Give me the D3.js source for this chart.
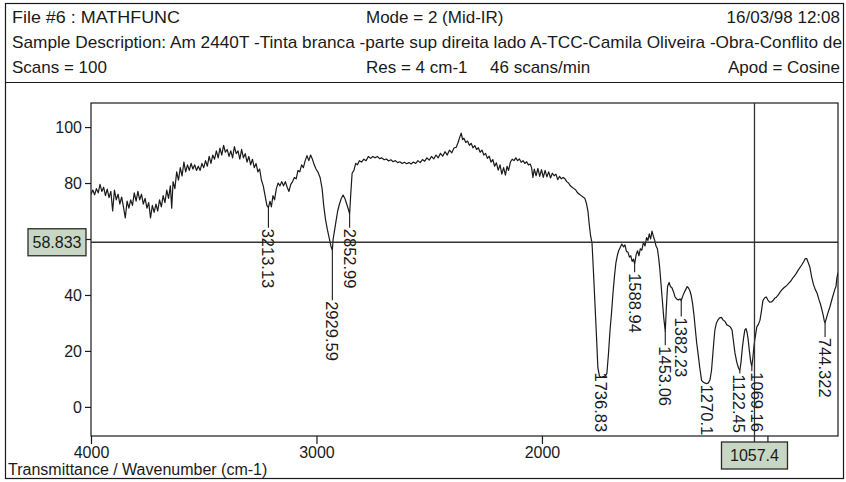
<!DOCTYPE html>
<html>
<head>
<meta charset="utf-8">
<script src="https://cdn.jsdelivr.net/npm/d3@7"></script>
<style>
  body { margin: 0; background: #fff; }
  svg text { font-family: "Liberation Sans", Arial, sans-serif; fill: #1a1a1a; }
</style>
</head>
<body>
<svg id="chart"></svg>
<script>
const width = 846;
const height = 482;

// header lines of the instrument printout
const headerFile = "File #6 : MATHFUNC";
const headerMode = "Mode = 2 (Mid-IR)";
const headerDate = "16/03/98 12:08";
const headerSample = "Sample Description: Am 2440T -Tinta branca -parte sup direita lado A-TCC-Camila Oliveira -Obra-Conflito de";
const headerScans = "Scans = 100";
const headerRes = "Res = 4 cm-1";
const headerRate = "46 scans/min";
const headerApod = "Apod = Cosine";
const axisTitle = "Transmittance / Wavenumber (cm-1)";

const xTicks = [4000, 3000, 2000, 1000];
const yTicks = [0, 20, 40, 60, 80, 100];

// cursor readout
const cursorT = 58.833;
const cursorW = 1057.4;

// peak picks
const peakWavenumbers = [3213.13, 2929.59, 2852.99, 1736.83, 1588.94, 1453.06, 1382.23, 1270.1, 1122.45, 1069.16, 744.322];
const peakLabels = ["3213.13", "2929.59", "2852.99", "1736.83", "1588.94", "1453.06", "1382.23", "1270.1", "1122.45", "1069.16", "744.322"];

// spectrum: [wavenumber cm-1, %T]
const spectrum = [
  [4000, 76], [3992, 77.5], [3984, 75.8], [3976, 78], [3968, 76.5], [3960, 79.5], [3952, 77], [3944, 78.5],
  [3936, 75.5], [3928, 77.8], [3920, 74.8], [3912, 77], [3904, 70], [3896, 77.5], [3888, 74], [3880, 76],
  [3872, 72.5], [3864, 75], [3856, 71.5], [3848, 67.5], [3840, 73.5], [3832, 71], [3824, 74], [3816, 72],
  [3808, 76.5], [3800, 73.5], [3792, 77], [3784, 74], [3776, 76], [3768, 72.5], [3760, 74.5], [3752, 71],
  [3744, 73], [3736, 67.5], [3728, 72], [3720, 69.5], [3712, 72.5], [3704, 70], [3696, 74], [3688, 71.5],
  [3680, 75.5], [3672, 73], [3664, 77.5], [3656, 74.5], [3648, 79], [3642, 71], [3636, 80.5], [3628, 78],
  [3620, 84], [3612, 81], [3604, 85.5], [3596, 82.5], [3588, 87.5], [3580, 84], [3572, 86.5], [3564, 84.5],
  [3556, 87], [3548, 85], [3540, 86.5], [3532, 84.5], [3524, 86], [3516, 84.5], [3508, 87], [3500, 85.5],
  [3492, 88], [3484, 86], [3476, 89.5], [3468, 87], [3460, 90], [3452, 88.5], [3444, 91.5], [3436, 89],
  [3428, 92.5], [3420, 90], [3412, 93.5], [3404, 91], [3396, 92], [3388, 89.5], [3380, 91.5], [3372, 89],
  [3364, 93], [3356, 90.5], [3348, 91.5], [3340, 88.5], [3332, 92], [3324, 89], [3316, 90.5], [3308, 87.5],
  [3300, 89.5], [3292, 86.5], [3284, 88.5], [3276, 85.5], [3268, 87], [3260, 84], [3252, 85], [3244, 81],
  [3236, 79], [3228, 75.5], [3220, 72], [3213.13, 71.2], [3206, 73.5], [3200, 71.5], [3193, 75.5], [3186, 74],
  [3178, 78], [3170, 80], [3162, 79], [3154, 80.5], [3146, 79], [3138, 80.5], [3130, 78.5], [3122, 77],
  [3114, 79.5], [3106, 80.5], [3098, 82], [3090, 81.5], [3082, 84.5], [3074, 84], [3066, 86.5], [3058, 85.5],
  [3050, 88], [3042, 89.8], [3034, 88], [3026, 90], [3018, 88.5], [3010, 86.5], [3002, 85], [2994, 84],
  [2984, 82], [2975, 78], [2968, 72], [2960, 67], [2952, 63.5], [2944, 60.5], [2936, 57.5], [2929.59, 56],
  [2926, 60], [2920, 63], [2914, 66], [2906, 70], [2898, 72.5], [2890, 74.5], [2882, 75.7], [2874, 74.5],
  [2866, 72.5], [2860, 71], [2852.99, 69], [2848, 76], [2842, 83.5], [2834, 84.5], [2826, 87], [2818, 86.5],
  [2810, 88], [2800, 87.5], [2790, 88.5], [2780, 88], [2770, 89.5], [2760, 88.8], [2750, 89.5], [2740, 89],
  [2730, 89.5], [2720, 88.7], [2710, 89], [2700, 88.3], [2690, 88.6], [2680, 87.9], [2670, 88.3], [2660, 87.6],
  [2650, 88], [2640, 87.3], [2630, 87.6], [2620, 87], [2610, 87.4], [2600, 86.9], [2590, 87.3], [2580, 86.8],
  [2570, 87.5], [2560, 87], [2550, 88], [2540, 87.3], [2530, 88.4], [2520, 87.8], [2510, 89], [2500, 88.2],
  [2490, 89.5], [2480, 88.6], [2470, 90], [2460, 89], [2450, 90.6], [2440, 89.6], [2430, 91.2], [2420, 90],
  [2410, 91.8], [2400, 90.8], [2390, 92.5], [2380, 92.8], [2372, 94.5], [2364, 96.5], [2358, 97.8], [2352, 95.5],
  [2346, 96], [2338, 94.5], [2330, 95], [2322, 93.5], [2314, 94.2], [2306, 92.6], [2298, 93.4], [2290, 92],
  [2282, 92.6], [2274, 91], [2266, 91.8], [2258, 90], [2250, 90.6], [2242, 88.8], [2234, 89.6], [2226, 87.5],
  [2218, 88.4], [2210, 86], [2202, 87.2], [2194, 84.6], [2186, 86.5], [2178, 83.2], [2170, 85.5], [2162, 82.8],
  [2155, 86], [2148, 84.5], [2140, 87.5], [2132, 88.5], [2124, 88], [2116, 89], [2108, 88], [2100, 88.6],
  [2092, 87.4], [2084, 88], [2076, 87], [2068, 87.6], [2060, 86.5], [2052, 86.8], [2046, 85.5], [2040, 82],
  [2034, 85], [2026, 82.6], [2018, 85.2], [2010, 82.4], [2002, 84.8], [1994, 82], [1986, 84.5], [1978, 82.2],
  [1970, 84], [1962, 81.8], [1954, 83.5], [1946, 82.6], [1938, 83.2], [1930, 81.2], [1922, 82.4], [1914, 81.5],
  [1906, 82], [1898, 81.5], [1890, 80.5], [1882, 80], [1874, 79], [1866, 78.5], [1858, 78], [1850, 77.5],
  [1842, 76.5], [1834, 76], [1826, 75.5], [1818, 75], [1810, 74.6], [1802, 72.5], [1796, 70], [1790, 65],
  [1784, 61], [1778, 58.6], [1772, 49], [1765, 37], [1758, 25], [1752, 14], [1745, 11], [1736.83, 10.5],
  [1728, 10.8], [1720, 11], [1712, 12], [1705, 19], [1698, 27.5], [1691, 34], [1685, 40.7], [1678, 47],
  [1672, 51.5], [1666, 54], [1660, 55.8], [1654, 56.8], [1646, 58.2], [1638, 57.2], [1632, 57.9], [1625, 55.5],
  [1619, 55.4], [1612, 53.5], [1606, 54], [1600, 52], [1594, 52.8], [1588.94, 51], [1582, 54.5], [1576, 55.8],
  [1570, 54], [1564, 56.5], [1557, 56], [1550, 58.8], [1543, 57.5], [1536, 60.5], [1530, 59.5], [1524, 61.8],
  [1518, 60], [1512, 62.8], [1506, 61], [1500, 59.5], [1494, 57.5], [1488, 56.5], [1482, 53], [1477, 49],
  [1472, 44], [1466, 38], [1460, 32], [1453.06, 27], [1448, 36], [1443, 43], [1436, 44.5], [1430, 43],
  [1423, 42.5], [1416, 41], [1410, 39.3], [1402, 38.5], [1394, 38.2], [1388, 38.6], [1382.23, 38], [1376, 39.5],
  [1370, 40.7], [1362, 42], [1356, 43], [1350, 42.5], [1344, 41.5], [1338, 39.8], [1332, 37], [1326, 33],
  [1320, 28], [1314, 23], [1308, 19.3], [1300, 14], [1292, 9.5], [1284, 8.8], [1276, 8.5], [1270.1, 8.3],
  [1262, 8.6], [1255, 9.6], [1248, 13], [1242, 19], [1237, 24], [1233, 27.5], [1226, 30], [1220, 31],
  [1212, 31.8], [1204, 32], [1196, 31], [1188, 30.5], [1180, 29.3], [1172, 29], [1164, 28.5], [1157, 27.5],
  [1150, 23], [1144, 19.3], [1136, 16], [1128, 13.8], [1122.45, 13], [1117, 16], [1112, 20.5], [1106, 24.5],
  [1100, 27.5], [1095, 28], [1090, 26.5], [1086, 24.5], [1080, 20], [1074, 16], [1069.16, 14.5], [1064, 18],
  [1060, 21.5], [1056, 24], [1052, 26], [1047, 28.6], [1040, 29.5], [1033, 31], [1026, 34.5], [1020, 38],
  [1012, 39], [1005, 39.3], [998, 38.2], [990, 37.4], [982, 37.5], [975, 38], [968, 38.8], [960, 39.2],
  [952, 40], [944, 41], [936, 41.8], [928, 42.5], [920, 43], [912, 43.6], [904, 44.3], [896, 45],
  [888, 46], [880, 46.8], [872, 47.7], [864, 48.8], [856, 49.8], [848, 50.7], [840, 51.8], [832, 53],
  [826, 53], [820, 51.8], [812, 50], [804, 46.5], [796, 43.8], [788, 42], [780, 40.7], [772, 38.5],
  [764, 36.5], [758, 34.6], [752, 32.5], [748, 30.8], [744.322, 30], [738, 31.8], [732, 33.5], [723, 35.7],
  [712, 39], [701, 42], [696, 43], [692, 46], [687, 48]
];

// ----------------------------------------------------------------------------

const plot = { left: 91, right: 838, top: 103, bottom: 436 };
const ink = "#1a1a1a";

const svg = d3.select("#chart")
    .attr("width", width)
    .attr("height", height);

svg.append("rect").attr("width", width).attr("height", height).attr("fill", "#fff");

// outer frame and header box
svg.append("rect")
    .attr("x", 5.5).attr("y", 3.5).attr("width", 838).attr("height", 475)
    .attr("fill", "none").attr("stroke", ink).attr("stroke-width", 1.2);
svg.append("line")
    .attr("x1", 5.5).attr("x2", 843.5).attr("y1", 82.5).attr("y2", 82.5)
    .attr("stroke", ink).attr("stroke-width", 1.2);

const header = svg.append("g").style("font-size", "17px");
function headerText(str, x, y, anchor, len) {
    const t = header.append("text").attr("x", x).attr("y", y)
        .attr("text-anchor", anchor || "start").text(str);
    if (len) t.attr("textLength", len).attr("lengthAdjust", "spacingAndGlyphs");
}
headerText(headerFile, 12, 23, "start", 168);
headerText(headerMode, 366, 23);
headerText(headerDate, 840, 23, "end");
headerText(headerSample, 12, 48, "start", 830);
headerText(headerScans, 12, 73);
headerText(headerRes, 366, 73);
headerText(headerRate, 490, 73);
headerText(headerApod, 840, 73, "end");

// scales
const x = d3.scaleLinear().domain([4000, 687]).range([plot.left, plot.right]);
const y = d3.scaleLinear().domain([-10.4, 108.6]).range([plot.bottom, plot.top]);

// axes; the 60 and 1000 labels sit under the cursor readouts, so they stay blank
const yAxis = svg.append("g")
    .attr("transform", `translate(${plot.left},0)`)
    .call(d3.axisLeft(y).tickValues(yTicks).tickSize(6).tickPadding(3)
        .tickFormat(d => d === 60 ? "" : d));
const xAxis = svg.append("g")
    .attr("transform", `translate(0,${plot.bottom})`)
    .call(d3.axisBottom(x).tickValues(xTicks).tickSize(8).tickPadding(3)
        .tickFormat(d => d === 1000 ? "" : d));
[xAxis, yAxis].forEach(g => {
    g.select(".domain").remove();
    g.selectAll("line").attr("stroke", ink).attr("stroke-width", 1.2);
    g.selectAll("text").style("font-size", "16px").attr("fill", ink)
        .style("font-family", "'Liberation Sans', Arial, sans-serif");
});

// plot frame
svg.append("rect")
    .attr("x", plot.left).attr("y", plot.top)
    .attr("width", plot.right - plot.left).attr("height", plot.bottom - plot.top)
    .attr("fill", "none").attr("stroke", ink).attr("stroke-width", 1.2);

svg.append("clipPath").attr("id", "clip")
    .append("rect")
    .attr("x", plot.left).attr("y", plot.top)
    .attr("width", plot.right - plot.left).attr("height", plot.bottom - plot.top);

// spectrum trace
const line = d3.line().x(d => x(d[0])).y(d => y(d[1]));
svg.append("path")
    .datum(spectrum)
    .attr("clip-path", "url(#clip)")
    .attr("d", line)
    .attr("fill", "none")
    .attr("stroke", ink)
    .attr("stroke-width", 1.2)
    .attr("stroke-linejoin", "round");

// cursor cross-hair
svg.append("line")
    .attr("x1", plot.left).attr("x2", plot.right)
    .attr("y1", y(cursorT)).attr("y2", y(cursorT))
    .attr("stroke", "#333").attr("stroke-width", 1.3);
svg.append("line")
    .attr("x1", x(cursorW)).attr("x2", x(cursorW))
    .attr("y1", plot.top).attr("y2", plot.bottom + 6)
    .attr("stroke", "#333").attr("stroke-width", 1.3);

// peak labels: pixel drop from the trough to the start of the text,
// and a sideways nudge where the printout pushed a label off its stub
const labelDrop = [20, 50, 14, -6, 8, 14, 16, 0, 3, 5, 14];
const labelNudge = [0, 0, 0, 0, 0, 0, 0, 0, -1, 5, 0];
const peaks = svg.append("g");
peakWavenumbers.forEach((w, i) => {
    const pt = d3.least(spectrum, d => Math.abs(d[0] - w));
    const px = x(w), py = y(pt[1]);
    const top = py + labelDrop[i];
    if (labelDrop[i] > 0) {
        peaks.append("line")
            .attr("x1", px).attr("x2", px).attr("y1", py).attr("y2", top)
            .attr("stroke", ink).attr("stroke-width", 1.1);
    }
    peaks.append("text")
        .attr("transform", `translate(${px + labelNudge[i]},${top + 1}) rotate(90)`)
        .attr("dominant-baseline", "central")
        .style("font-size", "16.5px")
        .text(peakLabels[i]);
});

// readout boxes
function readout(str, cx, cy, w, h) {
    svg.append("rect")
        .attr("x", cx - w / 2).attr("y", cy - h / 2).attr("width", w).attr("height", h)
        .attr("fill", "#c8d7c4").attr("stroke", "#2a2a2a").attr("stroke-width", 1.3);
    svg.append("text")
        .attr("x", cx).attr("y", cy)
        .attr("text-anchor", "middle").attr("dominant-baseline", "central")
        .style("font-size", "16px")
        .text(str);
}
readout(String(cursorT), 57, y(cursorT), 58, 27);
readout(String(cursorW), x(cursorW), 455.5, 66, 27);

// axis title
svg.append("text")
    .attr("x", 8).attr("y", 475)
    .style("font-size", "16px")
    .text(axisTitle);
</script>
</body>
</html>
